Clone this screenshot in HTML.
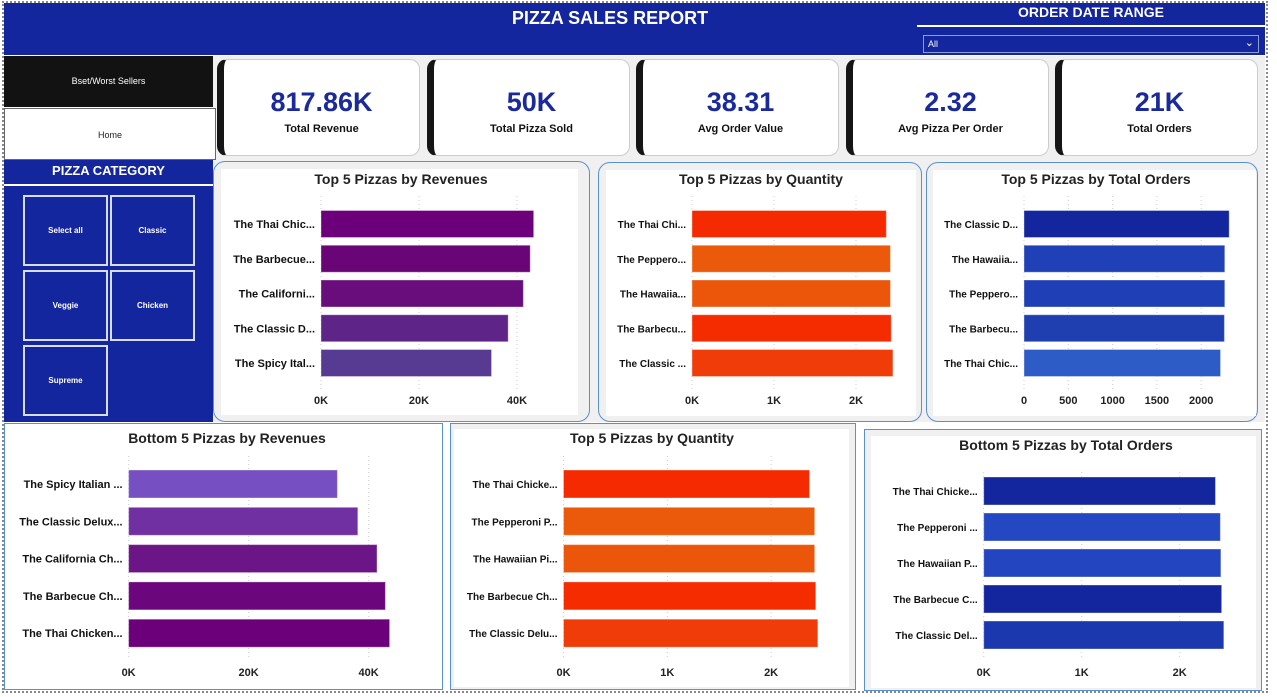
<!DOCTYPE html>
<html><head><meta charset="utf-8"><style>
*{box-sizing:border-box;margin:0;padding:0}
body{width:1277px;height:697px;overflow:hidden;background:#fff;font-family:"Liberation Sans",sans-serif;position:relative}
.abs{position:absolute}
.frame{left:2px;top:1px;width:1266px;height:692px;border:2px dotted #888}
.hdr{left:4px;top:3px;width:1261px;height:52px;background:#13269e}
.title{left:420px;top:8px;width:380px;text-align:center;color:#fff;font:bold 18px "Liberation Sans Narrow","Liberation Sans",sans-serif}
.odr{left:917px;top:4px;width:348px;text-align:center;color:#fff;font:bold 14px "Liberation Sans Narrow","Liberation Sans",sans-serif}
.odrline{left:917px;top:25px;width:348px;height:2px;background:#fff}
.dd{left:923px;top:35px;width:336px;height:18px;border:1px solid #8f9ad8;color:#fff;font:9px "Liberation Sans",sans-serif;padding:3px 4px}
.dd span{position:absolute;right:4px;top:0px;font-size:11px}
.main{left:213px;top:56px;width:1052px;height:366px;background:#f0f0f0}
.nav1{left:4px;top:56px;width:209px;height:51px;background:#121212;color:#fff;font:9px "Liberation Sans Narrow","Liberation Sans",sans-serif;text-align:center;line-height:51px}
.nav2{left:4px;top:108px;width:212px;height:52px;background:#fff;border:1px solid #666;color:#222;font:9px "Liberation Sans Narrow","Liberation Sans",sans-serif;text-align:center;line-height:52px}
.cat{left:4px;top:160px;width:209px;height:262px;background:#13269e}
.cath{left:4px;top:163px;width:209px;text-align:center;color:#fff;font:bold 13px "Liberation Sans",sans-serif}
.catline{left:4px;top:184px;width:209px;height:2px;background:#fff}
.btn{width:85px;height:71px;border:2px solid #d8dcf0;color:#fff;font:bold 8px "Liberation Sans",sans-serif;display:flex;align-items:center;justify-content:center}
.kpi{top:59px;width:203px;height:97px;background:#fff;border:1px solid #ccc;border-left:7px solid #151515;border-radius:10px;text-align:center}
.kv{margin-top:27px;color:#1a2a9c;font:bold 27px "Liberation Sans Narrow","Liberation Sans",sans-serif;line-height:30px}
.kl{color:#111;font:bold 11px "Liberation Sans",sans-serif;margin-top:6px}
.card{border:1px solid #5a8fd0;background:#f0f0f0;border-radius:12px}
.inner{background:#fff}
svg text{font-family:"Liberation Sans Narrow","Liberation Sans",sans-serif;font-weight:bold}
</style></head><body>
<div class="abs frame"></div>
<div class="abs hdr"></div>
<div class="abs title">PIZZA SALES REPORT</div>
<div class="abs odr">ORDER DATE RANGE</div>
<div class="abs odrline"></div>
<div class="abs dd">All<span>&#8964;</span></div>
<div class="abs main"></div>
<div class="abs nav1">Bset/Worst Sellers</div>
<div class="abs nav2">Home</div>
<div class="abs cat"></div>
<div class="abs cath">PIZZA CATEGORY</div>
<div class="abs catline"></div>
<div class="abs btn" style="left:23px;top:195px">Select all</div>
<div class="abs btn" style="left:110px;top:195px">Classic</div>
<div class="abs btn" style="left:23px;top:270px">Veggie</div>
<div class="abs btn" style="left:110px;top:270px">Chicken</div>
<div class="abs btn" style="left:23px;top:345px">Supreme</div>

<div class="abs kpi" style="left:217px"><div class="kv">817.86K</div><div class="kl">Total Revenue</div></div>
<div class="abs kpi" style="left:427px"><div class="kv">50K</div><div class="kl">Total Pizza Sold</div></div>
<div class="abs kpi" style="left:636px"><div class="kv">38.31</div><div class="kl">Avg Order Value</div></div>
<div class="abs kpi" style="left:846px"><div class="kv">2.32</div><div class="kl">Avg Pizza Per Order</div></div>
<div class="abs kpi" style="left:1055px"><div class="kv">21K</div><div class="kl">Total Orders</div></div>

<div class="abs card" style="left:213px;top:161px;width:377px;height:261px"><div class="abs inner" style="left:7px;top:7px;width:357px;height:246px"></div></div>
<div class="abs card" style="left:598px;top:162px;width:324px;height:260px"><div class="abs inner" style="left:7px;top:7px;width:310px;height:246px"></div></div>
<div class="abs card" style="left:926px;top:162px;width:332px;height:260px"><div class="abs inner" style="left:6px;top:7px;width:323px;height:246px"></div></div>
<div class="abs" style="left:4px;top:423px;width:439px;height:267px;background:#fff;border:1px solid #5a8fd0"></div>
<div class="abs" style="left:450px;top:423px;width:406px;height:267px;background:#f0f0f0;border:1px solid #5a8fd0"><div class="abs inner" style="left:3px;top:5px;width:395px;height:258px"></div></div>
<div class="abs" style="left:864px;top:429px;width:398px;height:262px;background:#f0f0f0;border:1px solid #5a8fd0"><div class="abs inner" style="left:6px;top:6px;width:385px;height:252px"></div></div>

<svg id="charts" class="abs" style="left:0;top:0" width="1277" height="697"></svg>
<script>
// Chart 1: Top 5 by Revenues (K)
const c1Labels=["The Thai Chic...","The Barbecue...","The Californi...","The Classic D...","The Spicy Ital..."];
const c1Values=[43.4,42.7,41.3,38.2,34.8];
const c1Ticks=[0,20,40];
const c1TickLabels=["0K","20K","40K"];
// Chart 2: Top 5 by Quantity (K)
const c2Labels=["The Thai Chi...","The Peppero...","The Hawaiia...","The Barbecu...","The Classic ..."];
const c2Values=[2.37,2.42,2.42,2.43,2.45];
const c2Ticks=[0,1,2];
const c2TickLabels=["0K","1K","2K"];
// Chart 3: Top 5 by Total Orders
const c3Labels=["The Classic D...","The Hawaiia...","The Peppero...","The Barbecu...","The Thai Chic..."];
const c3Values=[2316,2266,2266,2262,2218];
const c3Ticks=[0,500,1000,1500,2000];
const c3TickLabels=["0","500","1000","1500","2000"];
// Chart 4: Bottom 5 by Revenues (K)
const c4Labels=["The Spicy Italian ...","The Classic Delux...","The California Ch...","The Barbecue Ch...","The Thai Chicken..."];
const c4Values=[34.8,38.2,41.4,42.8,43.5];
const c4Ticks=[0,20,40];
const c4TickLabels=["0K","20K","40K"];
// Chart 5: Top 5 by Quantity (K)
const c5Labels=["The Thai Chicke...","The Pepperoni P...","The Hawaiian Pi...","The Barbecue Ch...","The Classic Delu..."];
const c5Values=[2.37,2.42,2.42,2.43,2.45];
const c5Ticks=[0,1,2];
const c5TickLabels=["0K","1K","2K"];
// Chart 6: Bottom 5 by Total Orders (K)
const c6Labels=["The Thai Chicke...","The Pepperoni ...","The Hawaiian P...","The Barbecue C...","The Classic Del..."];
const c6Values=[2.365,2.415,2.42,2.428,2.45];
const c6Ticks=[0,1,2];
const c6TickLabels=["0K","1K","2K"];

const NS="http://www.w3.org/2000/svg";
const svg=document.getElementById('charts');
function mk(tag,attrs,parent){const e=document.createElementNS(NS,tag);for(const k in attrs)e.setAttribute(k,attrs[k]);(parent||svg).appendChild(e);return e;}
function chart(name,title,labels,values,ticks,tickLabels,colors,L){
  const g=mk('g',{});
  
  
  const x=v=>L.x0+v*L.px;
  const y=i=>L.y0+i*L.step;
  const t=mk('text',{x:L.tx,y:L.ty,'text-anchor':'middle','font-size':14,fill:'#222','font-family':'Liberation Sans'},g);
  t.textContent=title;
  
  
  ticks.forEach((tv,i)=>{
    const gl=mk('line',{x1:x(tv),x2:x(tv),y1:L.gt,y2:L.gb,stroke:'#ccc','stroke-dasharray':'1,3'},g);
    
    
    const tt=mk('text',{x:x(tv),y:L.ay,'text-anchor':'middle','font-size':11,fill:'#222'},g);
    tt.textContent=tickLabels[i];
    
    
  });
  labels.forEach((lb,i)=>{
    const r=mk('rect',{x:x(0),y:y(i)-L.bh/2,width:x(values[i])-x(0),height:L.bh,fill:colors[i],stroke:'rgba(255,255,255,0.35)'},g);
    
    
    const tl=mk('text',{x:x(0)-6,y:y(i)+4,'text-anchor':'end','font-size':L.fs,fill:'#111'},g);
    tl.textContent=lb;
    
    
  });
}
const purple=["#6b007a","#6a0578","#6a0d7c","#5f2487","#573b93"];
const orange=["#f52a00","#eb5a0a","#eb560b","#f52c00","#f03c08"];
const blue=["#13269e","#1f40b6","#1f3fb6","#1f3fb0","#2d5cc6"];
chart('chart-top-revenues','Top 5 Pizzas by Revenues',c1Labels,c1Values,c1Ticks,c1TickLabels,purple,{x0:321,px:4.9,y0:224,step:34.75,bh:27,tx:401,ty:184,gt:196,gb:392,ay:404,fs:11});
chart('chart-top-quantity','Top 5 Pizzas by Quantity',c2Labels,c2Values,c2Ticks,c2TickLabels,orange,{x0:692,px:82,y0:224,step:34.75,bh:27,tx:761,ty:184,gt:196,gb:392,ay:404,fs:10});
chart('chart-top-orders','Top 5 Pizzas by Total Orders',c3Labels,c3Values,c3Ticks,c3TickLabels,blue,{x0:1024,px:0.0886,y0:224,step:34.75,bh:27,tx:1096,ty:184,gt:196,gb:392,ay:404,fs:10});
chart('chart-bottom-revenues','Bottom 5 Pizzas by Revenues',c4Labels,c4Values,c4Ticks,c4TickLabels,["#7650c2","#7030a2","#6b1587","#6b067c","#6b007a"],{x0:128.6,px:6.0,y0:484,step:37.3,bh:28,tx:227,ty:443,gt:456,gb:660,ay:676,fs:11});
chart('chart-quantity-2','Top 5 Pizzas by Quantity',c5Labels,c5Values,c5Ticks,c5TickLabels,orange,{x0:563.5,px:103.8,y0:484,step:37.3,bh:28,tx:652,ty:443,gt:456,gb:660,ay:676,fs:10});
chart('chart-bottom-orders','Bottom 5 Pizzas by Total Orders',c6Labels,c6Values,c6Ticks,c6TickLabels,["#13269e","#2447c2","#2345c0","#13269e","#1c38ae"],{x0:983.7,px:98,y0:491,step:36,bh:28,tx:1066,ty:450,gt:472,gb:660,ay:676,fs:10});
</script>
</body></html>
